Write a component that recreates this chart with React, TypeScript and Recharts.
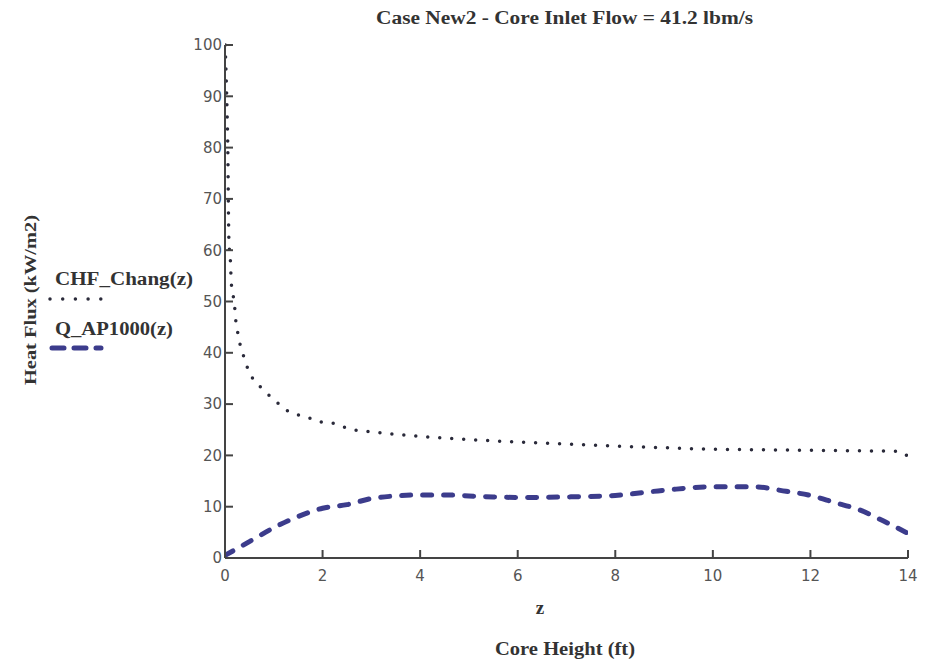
import { LineChart, Line, XAxis, YAxis } from 'recharts';

const chfZ = [0.005, 0.02, 0.04, 0.06, 0.07, 0.08, 0.11, 0.13, 0.17, 0.2, 0.22, 0.26, 0.3, 0.38, 0.48, 0.59, 0.73, 0.87, 1.16, 1.3, 1.5, 1.7, 1.86, 2.3, 2.5, 3.2, 4, 5, 6, 7, 8, 9, 10, 11, 12, 13, 13.8, 14];
const chfVals = [100, 95, 88, 78, 68, 62, 58, 53.5, 51, 48.7, 46.4, 44, 42, 39.4, 36.6, 34.7, 33.3, 32, 29.6, 28.6, 27.9, 27.4, 26.7, 26.1, 25.3, 24.4, 23.7, 23.1, 22.6, 22.2, 21.8, 21.5, 21.2, 21.1, 21.0, 20.9, 20.8, 19.8];

const qZ = [0, 0.5, 1, 1.5, 2, 2.5, 3, 3.5, 4, 4.5, 5, 5.5, 6, 7, 8, 9, 10, 10.8, 11.5, 12, 12.5, 13, 13.5, 14];
const qVals = [0.5, 3.2, 5.9, 8.1, 9.7, 10.4, 11.6, 12.1, 12.3, 12.3, 12.1, 11.9, 11.8, 11.9, 12.2, 13.2, 13.9, 13.9, 13, 12.2, 10.8, 9.4, 7.2, 4.8];

const xTicks = [0, 2, 4, 6, 8, 10, 12, 14];
const yTicks = [0, 10, 20, 30, 40, 50, 60, 70, 80, 90, 100];

const chfData = chfZ.map((z, i) => ({ z, v: chfVals[i] }));
const qData = qZ.map((z, i) => ({ z, v: qVals[i] }));

const AXIS = '#444';
const CHF_COLOR = '#2a2a3a';
const Q_COLOR = '#3c3c8c';
const SERIF = '"Liberation Serif", "Times New Roman", serif';
const tickStyle = { fill: '#555', fontSize: 15, fontFamily: 'Tahoma, "DejaVu Sans", sans-serif' };
const bold = { fontFamily: SERIF, fontWeight: 700, fill: '#333', lengthAdjust: 'spacingAndGlyphs' };

export default function App() {
  return (
    <div style={{ position: 'absolute', left: 0, top: 0, background: '#fff' }}>
      <LineChart width={941} height={659} margin={{ top: 45, right: 33, bottom: 0, left: 0 }}>
        <text x={376} y={24} fontSize={18} textLength={377} {...bold}>
          Case New2 - Core Inlet Flow = 41.2 lbm/s
        </text>
        <text x={540} y={614} textAnchor="middle" fontSize={19} {...bold}>z</text>
        <text x={495} y={655} fontSize={18} textLength={140} {...bold}>
          Core Height (ft)
        </text>
        <text x={36} y={385} transform="rotate(-90, 36, 385)" fontSize={17} textLength={170} {...bold}>
          Heat Flux (kW/m2)
        </text>
        {/* legend */}
        <text x={55} y={285} fontSize={18} textLength={138} {...bold}>CHF_Chang(z)</text>
        <line x1={50} y1={299} x2={101} y2={299} stroke={CHF_COLOR} strokeWidth={3.5} strokeDasharray="0 12.7" strokeLinecap="round" />
        <text x={55} y={335} fontSize={18} textLength={118} {...bold}>Q_AP1000(z)</text>
        <line x1={52} y1={348} x2={101} y2={348} stroke={Q_COLOR} strokeWidth={5} strokeDasharray="12 10" strokeLinecap="round" />
        <XAxis
          xAxisId="b"
          type="number"
          dataKey="z"
          domain={[0, 14]}
          ticks={xTicks}
          allowDataOverflow
          height={101}
          tickSize={-8}
          tickMargin={20}
          tick={tickStyle}
          stroke={AXIS}
          strokeWidth={2}
        />
        <XAxis
          xAxisId="t"
          orientation="top"
          type="number"
          dataKey="z"
          domain={[0, 14]}
          ticks={xTicks}
          height={0}
          tickSize={-8}
          tick={false}
          stroke={AXIS}
          strokeWidth={2}
        />
        <YAxis
          yAxisId="l"
          type="number"
          domain={[0, 100]}
          ticks={yTicks}
          width={225}
          tickSize={-8}
          tickMargin={11}
          tick={tickStyle}
          stroke={AXIS}
          strokeWidth={2}
        />
        <YAxis
          yAxisId="r"
          orientation="right"
          type="number"
          domain={[0, 100]}
          ticks={yTicks}
          width={0}
          tickSize={-8}
          tick={false}
          stroke={AXIS}
          strokeWidth={2}
        />
        <Line
          xAxisId="b"
          yAxisId="l"
          data={chfData}
          dataKey="v"
          type="monotone"
          stroke={CHF_COLOR}
          strokeWidth={3.5}
          strokeDasharray="0 12"
          strokeLinecap="round"
          dot={false}
          isAnimationActive={false}
        />
        <Line
          xAxisId="b"
          yAxisId="l"
          data={qData}
          dataKey="v"
          type="monotone"
          stroke={Q_COLOR}
          strokeWidth={5}
          strokeDasharray="9 12"
          strokeLinecap="round"
          dot={false}
          isAnimationActive={false}
        />
      </LineChart>
    </div>
  );
}
